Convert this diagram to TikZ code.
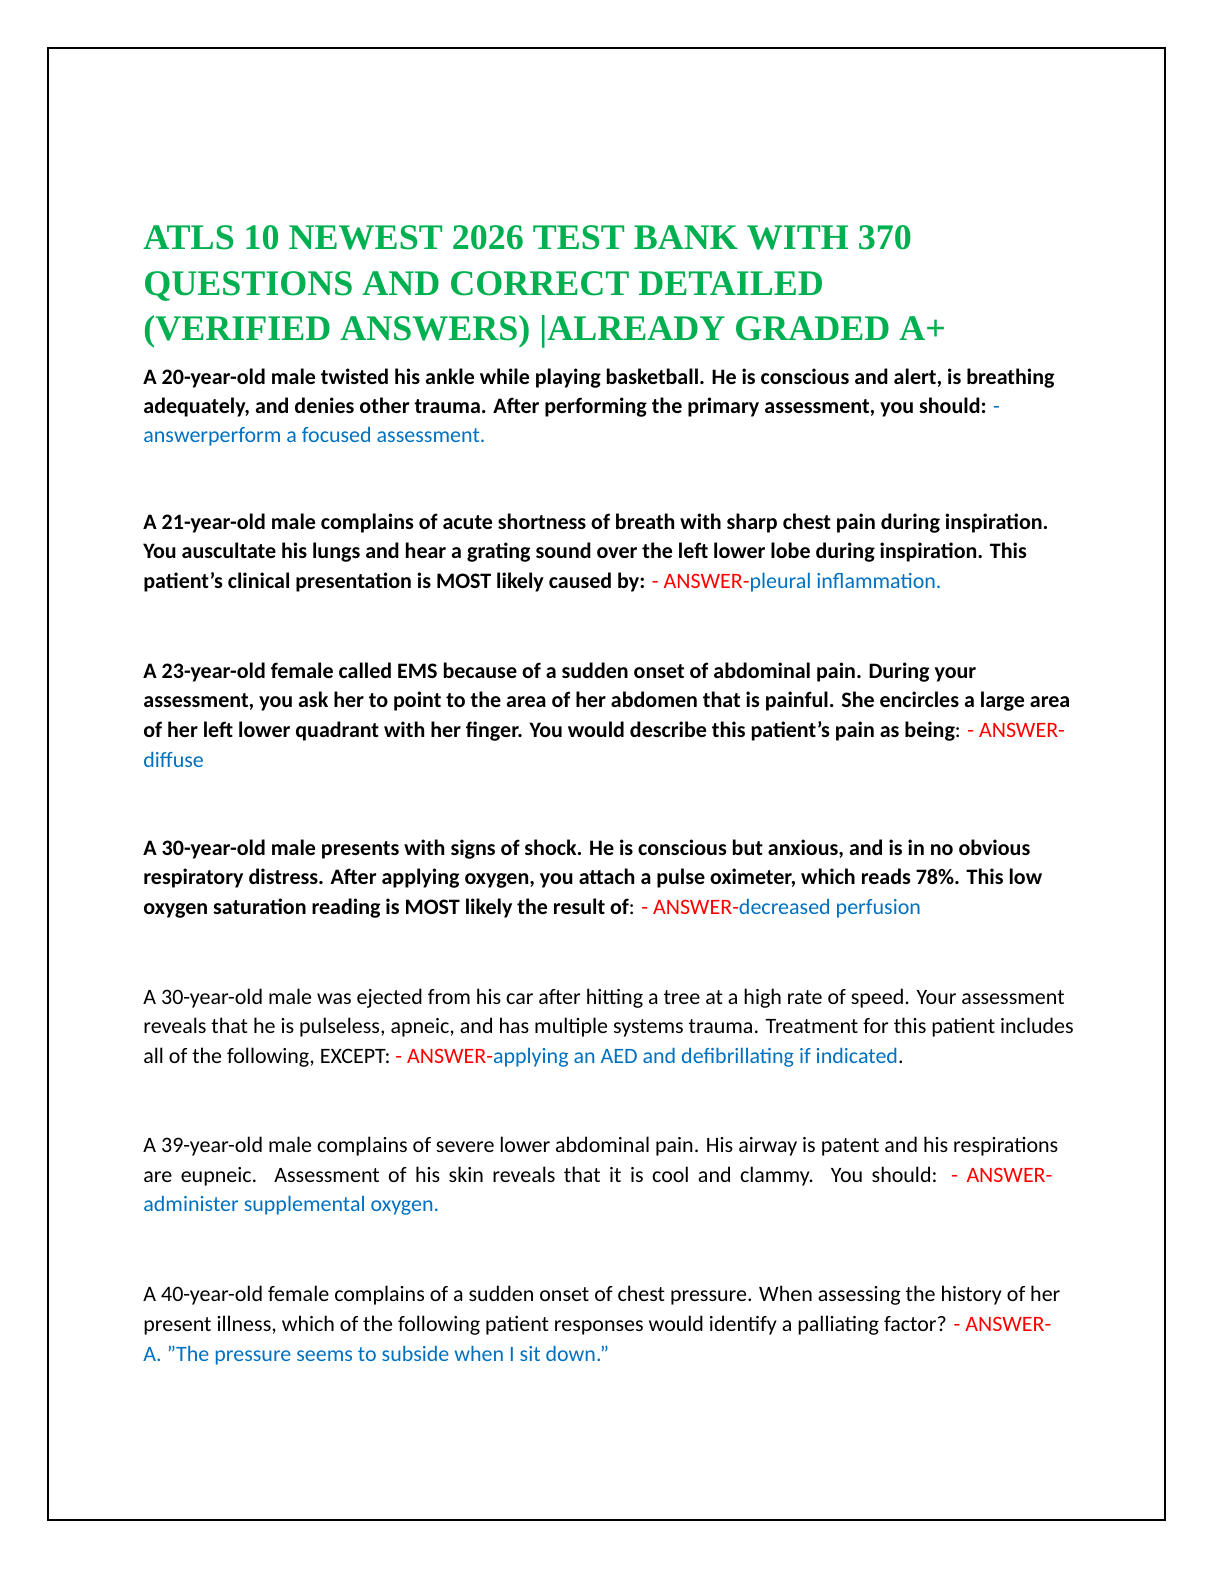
\documentclass[tikz,border=0pt]{standalone}
\usepackage{fontspec}
\setmainfont{Carlito}
\newfontfamily\ttl{Liberation Serif}
\definecolor{tgreen}{RGB}{0,176,80}
\definecolor{ablue}{RGB}{0,112,192}
\definecolor{ared}{RGB}{255,0,0}
\begin{document}
\begin{tikzpicture}[x=1pt,y=-1pt,
  ln/.style={anchor=base west,inner sep=0pt,font=\fontsize{11}{13}\selectfont},
  tl/.style={anchor=base west,inner sep=0pt,font=\ttl\bfseries\fontsize{18}{20}\selectfont,text=tgreen}]
\useasboundingbox (0,0) rectangle (612,792);
\draw[line width=0.8pt] (24,24) rectangle (582.5,760);
\def\L{71.5}
\newcommand\A[1]{\textcolor{ared}{#1}}
\newcommand\B[1]{\textcolor{ablue}{#1}}
\node[tl] (t1) at (\L,124.5) {ATLS 10 NEWEST 2026 TEST BANK WITH 370};
\node[tl] (t2) at (\L,147.5) {QUESTIONS AND CORRECT DETAILED};
\node[tl] (t3) at (\L,170) {(VERIFIED ANSWERS) |ALREADY GRADED A+};
% Q1
\node[ln] (a1) at (\L,192) {\bfseries A 20-year-old male twisted his ankle while playing basketball. He is conscious and alert, is breathing};
\node[ln] (a2) at (\L,206.5) {\bfseries adequately, and denies other trauma. After performing the primary assessment, you should: \mdseries\B{-}};
\node[ln] (a3) at (\L,221) {\B{answerperform a focused assessment.}};
% Q2
\node[ln] (b1) at (\L,264.5) {\bfseries A 21-year-old male complains of acute shortness of breath with sharp chest pain during inspiration.};
\node[ln] (b2) at (\L,279) {\bfseries You auscultate his lungs and hear a grating sound over the left lower lobe during inspiration. This};
\node[ln] (b3) at (\L,294) {\bfseries patient's clinical presentation is MOST likely caused by: \mdseries\A{- ANSWER-}\B{pleural inflammation.}};
% Q3
\node[ln] (c1) at (\L,339) {\bfseries A 23-year-old female called EMS because of a sudden onset of abdominal pain. During your};
\node[ln] (c2) at (\L,353.5) {\bfseries assessment, you ask her to point to the area of her abdomen that is painful. She encircles a large area};
\node[ln] (c3) at (\L,368.5) {\bfseries of her left lower quadrant with her finger. You would describe this patient's pain as being\mdseries: \A{- ANSWER-}};
\node[ln] (c4) at (\L,383.5) {\B{diffuse}};
% Q4
\node[ln] (d1) at (\L,427.5) {\bfseries A 30-year-old male presents with signs of shock. He is conscious but anxious, and is in no obvious};
\node[ln] (d2) at (\L,442) {\bfseries respiratory distress. After applying oxygen, you attach a pulse oximeter, which reads 78\%. This low};
\node[ln] (d3) at (\L,457) {\bfseries oxygen saturation reading is MOST likely the result of\mdseries: \A{- ANSWER-}\B{decreased perfusion}};
% Q5
\node[ln] (e1) at (\L,502) {A 30-year-old male was ejected from his car after hitting a tree at a high rate of speed. Your assessment};
\node[ln] (e2) at (\L,516.5) {reveals that he is pulseless, apneic, and has multiple systems trauma. Treatment for this patient includes};
\node[ln] (e3) at (\L,531.5) {all of the following, EXCEPT: \A{- ANSWER-}\B{applying an AED and defibrillating if indicated}.};
% Q6
\node[ln] (f1) at (\L,576) {A 39-year-old male complains of severe lower abdominal pain. His airway is patent and his respirations};
\node[ln] (f2) at (\L,591) {\hbox to 454.5pt{are eupneic. Assessment of his skin reveals that it is cool and clammy. You should: \A{- ANSWER-}}};
\node[ln] (f3) at (\L,605.5) {\B{administer supplemental oxygen.}};
% Q7
\node[ln] (g1) at (\L,650.5) {A 40-year-old female complains of a sudden onset of chest pressure. When assessing the history of her};
\node[ln] (g2) at (\L,665.5) {present illness, which of the following patient responses would identify a palliating factor? \A{- ANSWER-}};
\node[ln] (g3) at (\L,680.5) {\B{A. "The pressure seems to subside when I sit down."}};
\end{tikzpicture}
\end{document}
